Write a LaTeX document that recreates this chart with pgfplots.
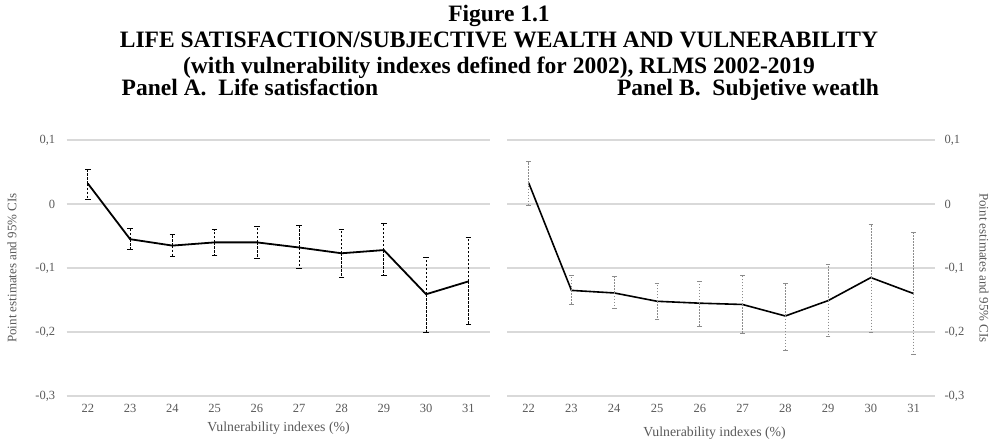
\documentclass[border=0pt]{standalone}
\usepackage{pgfplots}
\pgfplotsset{compat=1.18}
\usepackage{pgfplotstable}
\usepackage{fontspec}
\setmainfont{Liberation Serif}
\definecolor{gridc}{HTML}{D9D9D9}
\definecolor{txt}{HTML}{595959}
\definecolor{ebB}{HTML}{8C8C8C}

\pgfplotstableread{
x y ep em
22 0.032 0.022 0.025
23 -0.055 0.017 0.016
24 -0.065 0.018 0.017
25 -0.060 0.020 0.020
26 -0.060 0.025 0.025
27 -0.068 0.034 0.033
28 -0.077 0.038 0.037
29 -0.072 0.041 0.039
30 -0.141 0.058 0.059
31 -0.121 0.069 0.067
}\dataA

\pgfplotstableread{
x y ep em
22 0.033 0.033 0.035
23 -0.135 0.024 0.022
24 -0.139 0.026 0.024
25 -0.152 0.028 0.028
26 -0.155 0.034 0.036
27 -0.157 0.046 0.045
28 -0.175 0.051 0.053
29 -0.151 0.057 0.056
30 -0.115 0.083 0.085
31 -0.140 0.096 0.095
}\dataB

\pgfplotsset{
  panel/.style={
    anchor=south west,
    scale only axis,
    height=256pt,
    xmin=21.5, xmax=31.5,
    ymin=-0.3, ymax=0.1,
    xtick={22,...,31},
    ytick={-0.3,-0.2,-0.1,0,0.1},
    yticklabels={{-0,3},{-0,2},{-0,1},{0},{0,1}},
    ymajorgrids,
    major grid style={gridc, line width=1.1pt},
    axis line style={draw=none},
    tick style={draw=none},
    /pgf/number format/assume math mode=true,
    ticklabel style={font=\fontsize{12.5}{14}\selectfont, text=txt},
    xticklabel style={yshift=-5pt},
    clip=false,
  }
}

\begin{document}
\begin{tikzpicture}
\useasboundingbox (0pt,0pt) rectangle (998pt,446pt);
\tikzset{ttl/.style={font=\fontsize{23.5}{26}\selectfont\bfseries, anchor=base, inner sep=0pt}}
\node[ttl] at (499pt,424pt) {Figure 1.1};
\node[ttl] at (499pt,398pt) {LIFE SATISFACTION/SUBJECTIVE WEALTH AND VULNERABILITY};
\node[ttl] at (499pt,372pt) {(with vulnerability indexes defined for 2002), RLMS 2002-2019};
\node[ttl] at (250pt,350pt) {Panel A.\ \ Life satisfaction};
\node[ttl] at (748pt,350pt) {Panel B.\ \ Subjetive weatlh};

\begin{axis}[panel, at={(66.7pt,50pt)}, width=422.8pt,
  yticklabel style={xshift=-8pt}]
\addplot[black, line width=1.8pt,
  error bars/.cd, y dir=both, y explicit,
  error bar style={black, line width=0.7pt, dash pattern=on 2.5pt off 1.5pt},
  error mark=-,
  error mark options={rotate=90, black, line width=0.7pt, mark size=2.8pt}]
  table[x=x, y=y, y error plus=ep, y error minus=em] {\dataA};
\end{axis}

\begin{axis}[panel, at={(507.3pt,50pt)}, width=427.7pt,
  yticklabel pos=right, yticklabel style={xshift=6pt}]
\addplot[black, line width=1.6pt,
  error bars/.cd, y dir=both, y explicit,
  error bar style={ebB, line width=0.6pt, dash pattern=on 1.5pt off 1.5pt},
  error mark=-,
  error mark options={rotate=90, ebB, line width=0.6pt, mark size=2.3pt}]
  table[x=x, y=y, y error plus=ep, y error minus=em] {\dataB};
\end{axis}

\node[font=\fontsize{13.8}{16}\selectfont, text=txt] at (278.5pt,18pt) {Vulnerability indexes (\%)};
\node[font=\fontsize{13.8}{16}\selectfont, text=txt] at (714.5pt,13pt) {Vulnerability indexes (\%)};
\node[font=\fontsize{13}{16}\selectfont, text=txt, rotate=90] at (12pt,178pt) {Point estimates and 95\% CIs};
\node[font=\fontsize{13}{16}\selectfont, text=txt, rotate=-90] at (984pt,178pt) {Point estimates and 95\% CIs};
\end{tikzpicture}
\end{document}
